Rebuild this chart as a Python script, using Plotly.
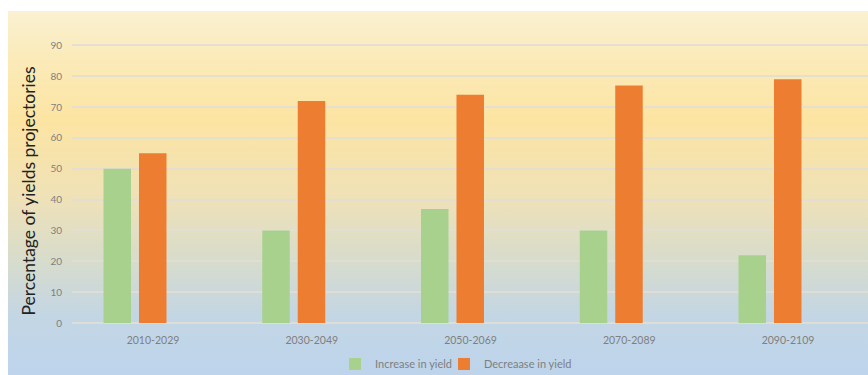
import base64
import plotly.graph_objects as go

categories = ["2010-2029", "2030-2049", "2050-2069", "2070-2089", "2090-2109"]
increase = [50, 30, 37, 30, 22]
decrease = [55, 72, 74, 77, 79]
y_ticks = [0, 10, 20, 30, 40, 50, 60, 70, 80, 90]

W, H = 868, 375
L, R, T, B = 72, 0, 30, 52
PW, PH = W - L - R, H - T - B

def px_x(p):
    return (p - L) / PW

def px_y(p):
    return (H - B - p) / PH

svg = """<svg xmlns='http://www.w3.org/2000/svg' width='100' height='100' preserveAspectRatio='none' viewBox='0 0 100 100'>
<defs><linearGradient id='g' x1='0' y1='0' x2='0' y2='1'>
<stop offset='0' stop-color='#FAF1D2'/>
<stop offset='0.12' stop-color='#FBEBBB'/>
<stop offset='0.30' stop-color='#FCE4A2'/>
<stop offset='0.50' stop-color='#F0E2B6'/>
<stop offset='0.68' stop-color='#D8DCCB'/>
<stop offset='0.84' stop-color='#C3D6E4'/>
<stop offset='1' stop-color='#BDD4EC'/>
</linearGradient></defs>
<rect x='0' y='0' width='100' height='100' fill='url(#g)'/></svg>"""
src = "data:image/svg+xml;base64," + base64.b64encode(svg.encode()).decode()

fig = go.Figure()
fig.add_trace(go.Bar(x=categories, y=increase, name="Increase in yield",
                     marker=dict(color="#A9D18E", line=dict(width=0)),
                     legend="legend"))
fig.add_trace(go.Bar(x=categories, y=decrease, name="Decreaase in yield",
                     marker=dict(color="#ED7D31", line=dict(width=0)),
                     legend="legend2"))

c0 = 135
step = 158.75
x0 = -(c0 - L) / step
x1 = (W - R - c0) / step

legend_common = dict(orientation="h", xanchor="left", yanchor="middle",
                     y=px_y(364), font=dict(size=11, color="#7F7F7F"),
                     bgcolor="rgba(0,0,0,0)", itemwidth=30)

fig.update_layout(
    width=W, height=H,
    margin=dict(l=L, r=R, t=T, b=B, pad=0, autoexpand=False),
    paper_bgcolor="white",
    plot_bgcolor="rgba(0,0,0,0)",
    barmode="group",
    bargap=0.553,
    bargroupgap=0.225,
    font=dict(family="Lato, Open Sans, sans-serif", color="#7F7F7F", size=10),
    showlegend=True,
    legend=dict(x=px_x(335), **legend_common),
    legend2=dict(x=px_x(444), **legend_common),
    images=[dict(source=src, xref="paper", yref="paper",
                 x=px_x(8), y=px_y(11), sizex=(W - 8) / PW, sizey=(H - 11) / PH,
                 xanchor="left", yanchor="top", sizing="stretch", layer="below")],
    annotations=[dict(text="Percentage of yields projectories", textangle=-90,
                      xref="paper", yref="paper", x=px_x(28), y=px_y(191.5),
                      xanchor="center", yanchor="middle", showarrow=False,
                      font=dict(family="Lato, sans-serif", size=17.5, color="#222222"))],
)
fig.update_xaxes(range=[x0, x1], showgrid=False, showline=False, zeroline=False,
                 ticks="", tickfont=dict(size=10.5, color="#7F7F7F"),
                 ticklabelstandoff=9, ticklabelshift=18)
fig.update_yaxes(range=[0, 95], tickvals=y_ticks, showgrid=True,
                 gridcolor="rgba(225,222,212,0.9)", gridwidth=1.5,
                 zeroline=True, zerolinecolor="rgba(225,222,212,0.9)", zerolinewidth=1.5,
                 showline=False, ticks="", tickfont=dict(size=10, color="#7F7F7F"),
                 ticklabelstandoff=9)

fig.write_html("out.html")
